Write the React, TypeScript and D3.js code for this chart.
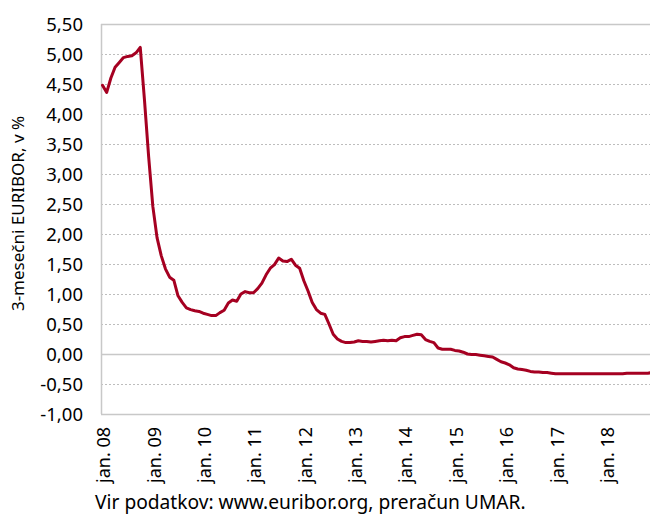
import React from "react";
import * as d3 from "d3";

const years = ["08", "09", "10", "11", "12", "13", "14", "15", "16", "17", "18"];
const yTicks = [-1, -0.5, 0, 0.5, 1, 1.5, 2, 2.5, 3, 3.5, 4, 4.5, 5, 5.5];

const v2008 = [4.48, 4.36, 4.6, 4.78, 4.86, 4.94, 4.96, 4.97, 5.02, 5.11, 4.24, 3.29];
const v2009 = [2.46, 1.94, 1.64, 1.42, 1.28, 1.23, 0.97, 0.86, 0.77, 0.74, 0.72, 0.71];
const v2010 = [0.68, 0.66, 0.64, 0.64, 0.69, 0.73, 0.85, 0.9, 0.88, 1.0, 1.04, 1.02];
const v2011 = [1.02, 1.09, 1.18, 1.32, 1.43, 1.49, 1.6, 1.55, 1.54, 1.58, 1.48, 1.43];
const v2012 = [1.22, 1.05, 0.86, 0.74, 0.68, 0.66, 0.5, 0.33, 0.25, 0.21, 0.19, 0.19];
const v2013 = [0.2, 0.22, 0.21, 0.21, 0.2, 0.21, 0.22, 0.23, 0.22, 0.23, 0.22, 0.27];
const v2014 = [0.29, 0.29, 0.31, 0.33, 0.32, 0.24, 0.21, 0.19, 0.1, 0.08, 0.08, 0.08];
const v2015 = [0.06, 0.05, 0.03, 0.0, -0.01, -0.01, -0.02, -0.03, -0.04, -0.05, -0.09, -0.13];
const v2016 = [-0.15, -0.18, -0.23, -0.25, -0.26, -0.27, -0.29, -0.3, -0.3, -0.31, -0.31, -0.32];
const v2017 = [-0.33, -0.33, -0.33, -0.33, -0.33, -0.33, -0.33, -0.33, -0.33, -0.33, -0.33, -0.33];
const v2018 = [-0.33, -0.33, -0.33, -0.33, -0.33, -0.32, -0.32, -0.32, -0.32, -0.32, -0.32, -0.31];

const values = [
  ...v2008, ...v2009, ...v2010, ...v2011, ...v2012, ...v2013,
  ...v2014, ...v2015, ...v2016, ...v2017, ...v2018,
];

const W = 650;
const H = 515;
const left = 101;
const top = 24;
const bottom = 414;
const FONT = "'Noto Sans', sans-serif";

const fmt = (v: number) => v.toFixed(2).replace(".", ",");

export default function App() {
  const x = d3.scaleLinear().domain([0, values.length - 1]).range([102.5, 652]);
  const y = d3.scaleLinear().domain([-1, 5.5]).range([bottom, top]);
  const line = d3
    .line<number>()
    .x((_, i) => x(i))
    .y((d) => y(d))
    .curve(d3.curveLinear);

  return (
    <svg
      width={W}
      height={H}
      style={{ position: "absolute", left: 0, top: 0, background: "#fff" }}
      fontFamily={FONT}
    >
      {yTicks.map((t) => {
        const yy = Math.round(y(t)) + 0.5;
        const solid = t === 0;
        return (
          <g key={t}>
            {t !== 5.5 && t !== -1 && (
              <line
                x1={left}
                x2={W}
                y1={yy}
                y2={yy}
                stroke={solid ? "#c8c8c8" : "#bdbdbd"}
                strokeWidth={solid ? 1.5 : 1}
                strokeDasharray={solid ? undefined : "2,2"}
              />
            )}
            <text
              x={83}
              y={y(t)}
              dy="0.36em"
              textAnchor="end"
              fontSize={18.5}
              fill="#000"
            >
              {fmt(t)}
            </text>
          </g>
        );
      })}
      <line x1={left} x2={W} y1={top + 0.5} y2={top + 0.5} stroke="#c8c8c8" strokeWidth={1.5} />
      <line x1={left} x2={W} y1={bottom + 0.5} y2={bottom + 0.5} stroke="#c8c8c8" strokeWidth={1.5} />
      <line x1={left + 0.5} x2={left + 0.5} y1={top} y2={bottom} stroke="#c8c8c8" strokeWidth={1.5} />

      {years.map((yr, i) => {
        const xx = x(i * 12) + 1.5;
        return (
          <text
            key={yr}
            transform={`translate(${xx},${427}) rotate(-90)`}
            textAnchor="end"
            dy="0.36em"
            fontSize={18}
            fill="#000"
          >
            {`jan. ${yr}`}
          </text>
        );
      })}

      <path
        d={line(values) || ""}
        fill="none"
        stroke="#A50021"
        strokeWidth={3}
        strokeLinejoin="round"
        strokeLinecap="round"
      />

      <text
        transform={`translate(24,${(117 + 310) / 2}) rotate(-90)`}
        textAnchor="middle"
        fontSize={17}
        fill="#000"
      >
        3-mesečni EURIBOR, v %
      </text>

      <text x={95} y={509} fontSize={19.2} fill="#000">
        Vir podatkov: www.euribor.org, preračun UMAR.
      </text>
    </svg>
  );
}
